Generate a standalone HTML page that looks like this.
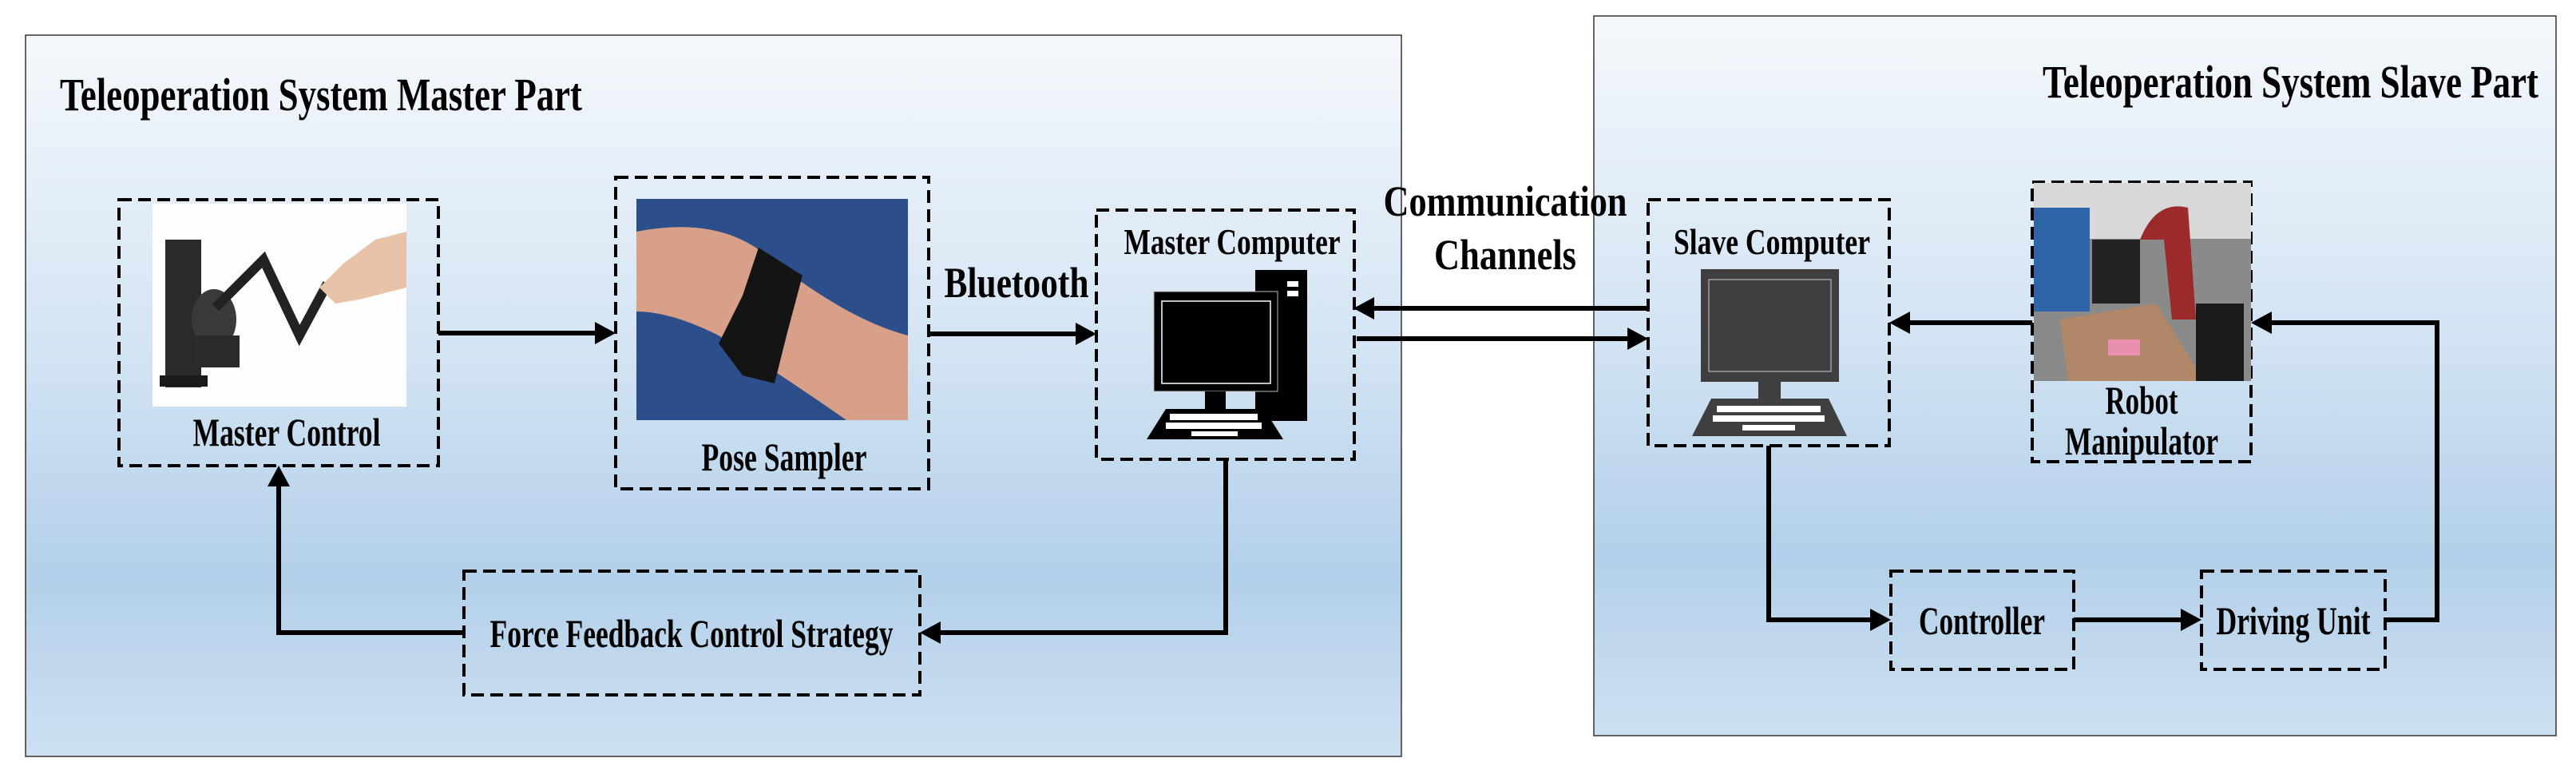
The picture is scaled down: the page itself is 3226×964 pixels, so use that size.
<!DOCTYPE html>
<html><head><meta charset="utf-8"><style>html,body{margin:0;padding:0;background:#fff}svg{display:block}</style></head>
<body>
<svg width="3226" height="964" viewBox="0 0 3226 964" xmlns="http://www.w3.org/2000/svg" font-family="'Liberation Serif', serif" font-weight="bold">
<defs>
<linearGradient id="bg" x1="0" y1="0" x2="0" y2="1">
<stop offset="0" stop-color="#f5f8fc"/>
<stop offset="0.45" stop-color="#d2e3f3"/>
<stop offset="0.75" stop-color="#b3d0ea"/>
<stop offset="1" stop-color="#cde0f1"/>
</linearGradient>
</defs>
<rect x="32" y="44" width="1723" height="903" fill="url(#bg)" stroke="#333" stroke-width="1.5"/>
<rect x="1996" y="20" width="1205" height="901" fill="url(#bg)" stroke="#333" stroke-width="1.5"/>

<text x="75" y="138" font-size="58" textLength="654" lengthAdjust="spacingAndGlyphs">Teleoperation System Master Part</text>
<text x="2558" y="122" font-size="58" textLength="621" lengthAdjust="spacingAndGlyphs">Teleoperation System Slave Part</text>

<g fill="none" stroke="#000" stroke-width="4" stroke-dasharray="16,8">
<rect x="149" y="250" width="400" height="333"/>
<rect x="771" y="222" width="392" height="390"/>
<rect x="1373" y="263" width="323" height="312"/>
<rect x="581" y="715" width="571" height="155"/>
<rect x="2064" y="250" width="302" height="308"/>
<rect x="2545" y="228" width="274" height="350"/>
<rect x="2368" y="715" width="229" height="123"/>
<rect x="2757" y="715" width="230" height="123"/>
</g>

<!-- master control image -->
<rect x="191" y="255" width="318" height="254" fill="#fdfdfd"/>
<rect x="207" y="300" width="45" height="185" fill="#2a2a2a"/>
<rect x="200" y="470" width="60" height="14" fill="#1a1a1a"/>
<ellipse cx="268" cy="400" rx="28" ry="38" fill="#3a3a3a"/>
<rect x="245" y="420" width="55" height="40" fill="#2b2b2b"/>
<path d="M270,385 L330,325 L375,420 L410,355" fill="none" stroke="#222" stroke-width="12"/>
<path d="M400,360 L430,330 L470,300 L509,290 L509,360 L450,375 L420,380 z" fill="#e8c3a8"/>
<text x="359" y="558" font-size="50" text-anchor="middle" textLength="235" lengthAdjust="spacingAndGlyphs">Master Control</text>

<!-- pose sampler image -->
<rect x="797" y="249" width="340" height="277" fill="#2c4f8c"/>
<path d="M797,290 Q900,270 960,320 Q1060,400 1137,420 L1137,526 L1060,526 Q980,470 900,420 Q840,390 797,390 z" fill="#d8a088"/>
<path d="M950,310 L1005,345 L985,420 L970,480 L930,470 L900,430 L930,370 z" fill="#141414"/>
<text x="982" y="589" font-size="50" text-anchor="middle" textLength="207" lengthAdjust="spacingAndGlyphs">Pose Sampler</text>

<text x="1273" y="372" font-size="54" text-anchor="middle" textLength="181" lengthAdjust="spacingAndGlyphs">Bluetooth</text>

<!-- master computer -->
<text x="1543" y="318" font-size="46" text-anchor="middle" textLength="271" lengthAdjust="spacingAndGlyphs">Master Computer</text>
<rect x="1572" y="338" width="65" height="189" fill="#000"/>
<rect x="1612" y="352" width="14" height="7" fill="#fff"/>
<rect x="1612" y="364" width="14" height="7" fill="#fff"/>
<rect x="1445" y="365" width="155" height="125" fill="#000" stroke="#bbb" stroke-width="1"/>
<rect x="1455" y="377" width="136" height="103" fill="none" stroke="#fff" stroke-width="1.5"/>
<rect x="1509" y="490" width="26" height="22" fill="#000"/>
<path d="M1460,512 L1583,512 L1607,550 L1436,550 z" fill="#000"/>
<rect x="1465" y="518" width="110" height="8" fill="#fff"/>
<rect x="1460" y="529" width="120" height="8" fill="#fff"/>
<rect x="1492" y="540" width="58" height="6" fill="#fff"/>

<text x="866" y="810" font-size="50" text-anchor="middle" textLength="505" lengthAdjust="spacingAndGlyphs">Force Feedback Control Strategy</text>

<text x="1885" y="270" font-size="54" text-anchor="middle" textLength="305" lengthAdjust="spacingAndGlyphs">Communication</text>
<text x="1885" y="337" font-size="54" text-anchor="middle" textLength="178" lengthAdjust="spacingAndGlyphs">Channels</text>

<!-- slave computer -->
<text x="2219" y="318" font-size="46" text-anchor="middle" textLength="246" lengthAdjust="spacingAndGlyphs">Slave Computer</text>
<rect x="2130" y="337" width="173" height="141" fill="#3f3f3f"/>
<rect x="2140" y="350" width="153" height="115" fill="none" stroke="#ccc" stroke-width="1"/>
<rect x="2202" y="478" width="28" height="21" fill="#3f3f3f"/>
<path d="M2143,499 L2290,499 L2313,546 L2119,546 z" fill="#3f3f3f"/>
<rect x="2150" y="508" width="130" height="8" fill="#fff"/>
<rect x="2145" y="520" width="140" height="8" fill="#fff"/>
<rect x="2182" y="532" width="66" height="7" fill="#fff"/>

<!-- robot image -->
<rect x="2547" y="229" width="272" height="248" fill="#8a8a8a"/>
<rect x="2547" y="229" width="272" height="70" fill="#d8d8d8"/>
<rect x="2547" y="260" width="70" height="130" fill="#2e64a8"/>
<rect x="2620" y="300" width="60" height="80" fill="#222"/>
<path d="M2580,400 L2700,380 L2760,477 L2590,477 z" fill="#b08868"/>
<path d="M2680,300 Q2700,250 2740,260 L2750,400 L2720,400 L2710,300 z" fill="#9b2a2a"/>
<rect x="2750" y="380" width="60" height="97" fill="#1a1a1a"/>
<rect x="2640" y="425" width="40" height="20" fill="#e98fb0"/>
<text x="2682" y="518" font-size="50" text-anchor="middle" textLength="91" lengthAdjust="spacingAndGlyphs">Robot</text>
<text x="2682" y="569" font-size="50" text-anchor="middle" textLength="192" lengthAdjust="spacingAndGlyphs">Manipulator</text>

<text x="2482" y="794" font-size="50" text-anchor="middle" textLength="158" lengthAdjust="spacingAndGlyphs">Controller</text>
<text x="2872" y="794" font-size="50" text-anchor="middle" textLength="193" lengthAdjust="spacingAndGlyphs">Driving Unit</text>

<!-- connectors -->
<g fill="none" stroke="#000" stroke-width="6">
<line x1="549" y1="417" x2="748" y2="417"/>
<line x1="1163" y1="418" x2="1350" y2="418"/>
<polyline points="1535,575 1535,792 1176,792"/>
<polyline points="581,792 349,792 349,608"/>
<line x1="2064" y1="386" x2="1720" y2="386"/>
<line x1="1699" y1="424" x2="2040" y2="424"/>
<line x1="2545" y1="404" x2="2390" y2="404"/>
<polyline points="2215,558 2215,776 2344,776"/>
<line x1="2597" y1="776" x2="2733" y2="776"/>
<polyline points="2987,776 3052,776 3052,404 2843,404"/>
</g>
<g fill="#000">
<path d="M771,417 l-26,-14 l0,28 z"/>
<path d="M1373,418 l-26,-14 l0,28 z"/>
<path d="M1152,792 l26,-14 l0,28 z"/>
<path d="M349,583 l-14,26 l28,0 z"/>
<path d="M1695,386 l26,-14 l0,28 z"/>
<path d="M2064,424 l-26,-14 l0,28 z"/>
<path d="M2366,404 l26,-14 l0,28 z"/>
<path d="M2368,776 l-26,-14 l0,28 z"/>
<path d="M2757,776 l-26,-14 l0,28 z"/>
<path d="M2819,404 l26,-14 l0,28 z"/>
</g>
</svg>
</body></html>
